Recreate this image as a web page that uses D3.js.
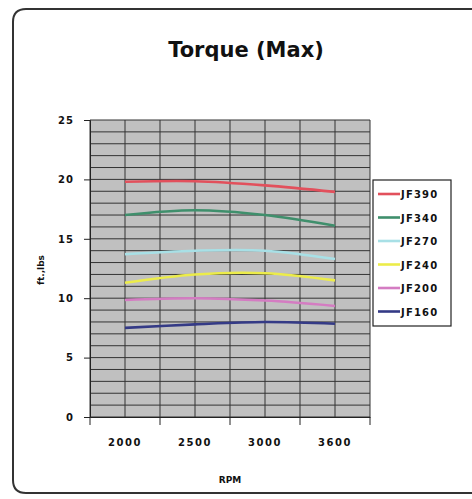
<!DOCTYPE html>
<html>
<head>
<meta charset="utf-8">
<script src="https://cdn.jsdelivr.net/npm/d3@7"></script>
<style>
  body { margin: 0; background: #fff; }
  text { font-family: "DejaVu Sans", sans-serif; font-weight: bold; fill: #111; }
</style>
</head>
<body>
<svg width="472" height="499"></svg>
<script>
// data
var rpm = ["2000", "2500", "3000", "3600"];
var seriesNames = ["JF390", "JF340", "JF270", "JF240", "JF200", "JF160"];
var jf390 = [19.8, 19.85, 19.5, 18.95];
var jf340 = [17.0, 17.4, 17.0, 16.1];
var jf270 = [13.7, 14.0, 14.0, 13.3];
var jf240 = [11.3, 12.0, 12.1, 11.5];
var jf200 = [9.85, 10.0, 9.8, 9.35];
var jf160 = [7.5, 7.8, 8.0, 7.85];
var yTicks = [0, 5, 10, 15, 20, 25];
var colors = ["#e2505c", "#3f8f6c", "#a8e0e6", "#ecec4a", "#d47cc2", "#343a86"];

var allSeries = [jf390, jf340, jf270, jf240, jf200, jf160];

var svg = d3.select("svg");
var plot = { left: 90, right: 370, top: 120, bottom: 417 };

// outer frame with round corners (right side runs off the picture)
svg.append("path")
  .attr("d", "M 480 9 L 26 9 Q 13 9 13 22 L 13 480 Q 13 493 26 493 L 480 493")
  .attr("fill", "none")
  .attr("stroke", "#333")
  .attr("stroke-width", 2);

var x = d3.scaleBand().domain(rpm).range([plot.left, plot.right]);
var y = d3.scaleLinear().domain([0, 25]).range([plot.bottom, plot.top]);
var xc = d => x(d) + x.bandwidth() / 2;

// plot background
svg.append("rect")
  .attr("x", plot.left).attr("y", plot.top)
  .attr("width", plot.right - plot.left).attr("height", plot.bottom - plot.top)
  .attr("fill", "#c0c0c0");

// horizontal gridlines every 1
svg.append("g").selectAll("line")
  .data(d3.range(0, 26))
  .join("line")
  .attr("x1", plot.left).attr("x2", plot.right)
  .attr("y1", d => y(d)).attr("y2", d => y(d))
  .attr("stroke", "#333").attr("stroke-width", 1);

// vertical gridlines: category edges and centres
var vx = rpm.map(d => x(d)).concat(rpm.map(xc)).concat([plot.right]);
svg.append("g").selectAll("line")
  .data(vx)
  .join("line")
  .attr("x1", d => d).attr("x2", d => d)
  .attr("y1", plot.top).attr("y2", plot.bottom)
  .attr("stroke", "#333").attr("stroke-width", 1);

// axes
var yAxis = d3.axisLeft(y).tickValues(yTicks).tickSize(6).tickPadding(10);
var yAxisGroup = svg.append("g")
  .attr("transform", "translate(" + plot.left + ",0)")
  .call(yAxis);
yAxisGroup.select(".domain").attr("stroke", "#222");
yAxisGroup.selectAll("line").attr("stroke", "#222");
yAxisGroup.selectAll("text")
  .style("font-size", "10px").style("letter-spacing", "1px")
  .attr("font-family", null).attr("fill", "#111");

var xAxis = d3.axisBottom(x).tickSize(0).tickPadding(22);
var xAxisGroup = svg.append("g")
  .attr("transform", "translate(0," + plot.bottom + ")")
  .call(xAxis);
xAxisGroup.select(".domain").attr("stroke", "#222");
xAxisGroup.selectAll("text")
  .style("font-size", "10px").style("letter-spacing", "1.5px")
  .attr("font-family", null).attr("fill", "#111");
// tick marks between categories
xAxisGroup.selectAll("line.sep")
  .data(rpm.map(d => x(d)).concat([plot.right]))
  .join("line")
  .attr("class", "sep")
  .attr("x1", d => d).attr("x2", d => d)
  .attr("y1", 0).attr("y2", 8)
  .attr("stroke", "#222");

// series lines
var line = d3.line()
  .x((d, i) => xc(rpm[i]))
  .y(d => y(d))
  .curve(d3.curveCatmullRom);

svg.append("g").selectAll("path")
  .data(allSeries)
  .join("path")
  .attr("d", line)
  .attr("fill", "none")
  .attr("stroke", (d, i) => colors[i])
  .attr("stroke-width", 2.6);

// legend
var legend = svg.append("g");
legend.append("rect")
  .attr("x", 373).attr("y", 180).attr("width", 78).attr("height", 146)
  .attr("fill", "#fff").attr("stroke", "#222").attr("stroke-width", 1.2);
var item = legend.selectAll("g.item")
  .data(seriesNames)
  .join("g")
  .attr("class", "item")
  .attr("transform", (d, i) => "translate(0," + (194 + i * 23.5) + ")");
item.append("line")
  .attr("x1", 378).attr("x2", 400)
  .attr("stroke", (d, i) => colors[i]).attr("stroke-width", 2.6);
item.append("text")
  .attr("x", 401).attr("y", 4)
  .style("font-size", "10px").style("letter-spacing", "1.2px")
  .text(d => d);

// titles
svg.append("text")
  .attr("x", 246).attr("y", 57)
  .attr("text-anchor", "middle")
  .style("font-size", "21px")
  .text("Torque (Max)");

svg.append("text")
  .attr("x", 230).attr("y", 483)
  .attr("text-anchor", "middle")
  .style("font-size", "9px")
  .text("RPM");

svg.append("text")
  .attr("transform", "translate(44,270) rotate(-90)")
  .attr("text-anchor", "middle")
  .style("font-size", "9px")
  .text("ft.,lbs");
</script>
</body>
</html>
